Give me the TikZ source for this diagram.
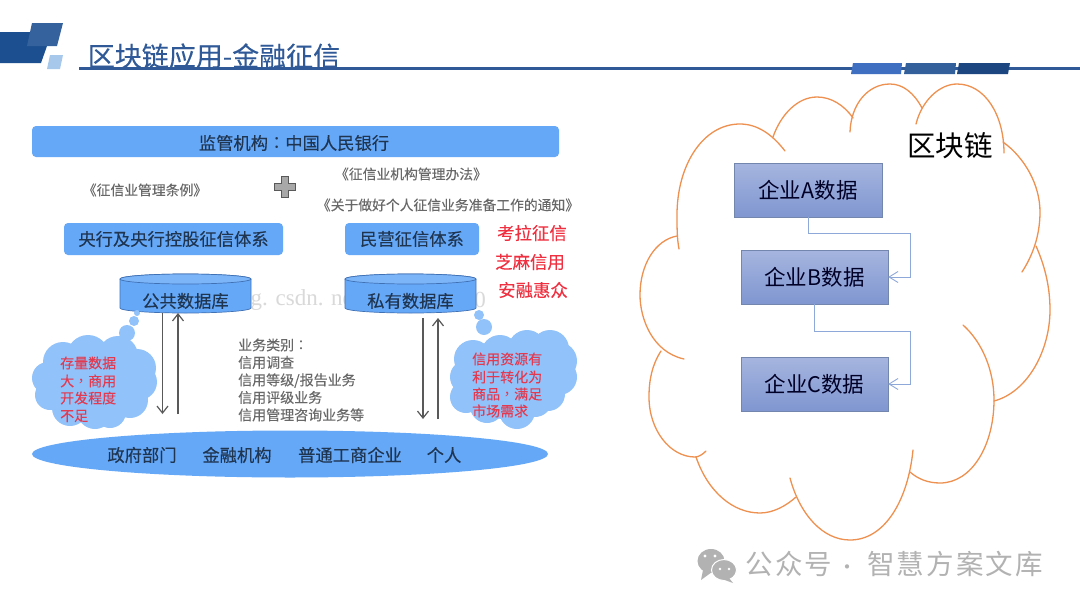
\documentclass[tikz,border=0pt]{standalone}
\usepackage{fontspec}
\setmainfont{Noto Sans CJK SC}
\newfontfamily\wmfont[LetterSpace=8]{Noto Sans CJK SC}
\newfontfamily\semib[FakeBold=0.15]{Noto Sans CJK SC}
\newfontfamily\tcp{Noto Sans CJK TC}
\usetikzlibrary{arrows.meta,calc}
\definecolor{barblue}{HTML}{66A8F8}
\definecolor{cloudblue}{HTML}{92C2FA}
\definecolor{inktext}{HTML}{1F3550}
\definecolor{graytext}{HTML}{686868}
\definecolor{redtext}{HTML}{F03040}
\definecolor{cloudred}{HTML}{E23A50}
\definecolor{orangeline}{HTML}{EE9150}
\definecolor{linkblue}{HTML}{8FA8DA}
\definecolor{ruleblue}{HTML}{2F5A97}
\definecolor{wm}{HTML}{B2B2B2}
\definecolor{AColor}{HTML}{A6B5DF}
\definecolor{BColor}{HTML}{7F96D0}
\definecolor{logodark}{HTML}{1C4F8F}
\definecolor{logomid}{HTML}{35629C}
\definecolor{logolight}{HTML}{A7C8EA}
\definecolor{tabone}{HTML}{3F6FC0}
\definecolor{tabtwo}{HTML}{33609A}
\definecolor{tabthree}{HTML}{1C4680}
\definecolor{plusgray}{HTML}{A8A8A8}
\newcommand{\fsz}[1]{\fontsize{#1}{#1}\selectfont}
\tikzset{
  bar/.style={fill=barblue,rounded corners=4pt,inner sep=0pt,text=inktext,font=\semib\fsz{17.3}},
  dbtext/.style={inner sep=0pt,text=inktext,font=\semib\fsz{17.3}},
  lawtext/.style={inner sep=0pt,text=graytext,font=\semib\fsz{13.8}},
  redlabel/.style={inner sep=0pt,text=redtext,font=\semib\fsz{17.4}},
  groundtext/.style={inner sep=0pt,text=inktext,font=\semib\fsz{17.3}},
  cloudtext/.style={inner sep=0pt,anchor=west,text=cloudred,font=\semib\fsz{14}},
  databox/.style={inner sep=0pt,draw=linkblue!80!black,line width=.4pt,top color=AColor,bottom color=BColor,minimum height=54pt,text=black!85!blue,font=\fsz{21.5}},
  flow/.style={draw=black!65,line width=1.2pt,-{Straight Barb[length=7pt,width=11pt]}},
  link/.style={draw=linkblue,line width=.9pt,-{Straight Barb[length=9pt,width=11pt]}},
  cloudarc/.style={draw=orangeline,line width=1.3pt,line cap=round},
  wmtext/.style={inner sep=0pt,text=wm,font=\wmfont\fsz{27.5}},
  faint/.style={inner sep=0pt,text=black!15,font=\fontspec{Liberation Serif}\fsz{23}},
}
\newcommand{\dbshape}[2]{%
  \fill[barblue,draw=ruleblue!70!barblue,line width=.7pt] (#1,279) -- (#1,308)
    arc[start angle=180,end angle=360,x radius=65.5pt,y radius=5pt] -- (#2,279)
    arc[start angle=0,end angle=180,x radius=65.5pt,y radius=5pt] -- cycle;
  \draw[ruleblue!70!barblue,line width=.7pt,fill=barblue!85!white] ({(#1+#2)/2},279) ellipse[x radius=65.5pt,y radius=5pt];
}
\begin{document}
\begin{tikzpicture}[x=1pt,y=-1pt]
\useasboundingbox (0,0) rectangle (1080,608);
\fill[white] (0,0) rectangle (1080,608);
% header
\fill[ruleblue] (79,66.5) rectangle (1080,69.5);
\fill[logodark] (0,32) -- (31,32) -- (47,46) -- (41,63) -- (0,63) -- cycle;
\fill[logomid] (32,23) -- (63,23) -- (57,46) -- (27,46) -- cycle;
\fill[logolight] (50,55) -- (63,55) -- (60,69) -- (47,69) -- cycle;
\fill[tabone] (853,63) -- (902,63) -- (901,74) -- (851,74) -- cycle;
\fill[tabtwo] (906,63) -- (956,63) -- (955,74) -- (904,74) -- cycle;
\fill[tabthree] (959,63) -- (1010,63) -- (1008,74) -- (957,74) -- cycle;
\node[inner sep=0pt,text=ruleblue,font=\semib\fsz{27}] (title) at (214,56) {区块链应用-金融征信};
% left
\node[bar,minimum width=527pt,minimum height=31pt] (reg) at (295.5,141.5) {};
\node[dbtext] (regtext) at (294,143) {监管机构{\tcp ：}中国人民银行};
\node[lawtext] (law1) at (145,190) {《征信业管理条例》};
\node[lawtext] (law2) at (411,174) {《征信业机构管理办法》};
\node[lawtext] (law3) at (448,205) {《关于做好个人征信业务准备工作的通知》};
\fill[plusgray,draw=black!65,line width=1pt]
  (281,176) -- (288,176) -- (288,183) -- (295,183) -- (295,190) -- (288,190) -- (288,197) -- (281,197) -- (281,190) -- (274,190) -- (274,183) -- (281,183) -- cycle;
\node[bar,minimum width=219pt,minimum height=32pt] (sys1) at (173.5,239) {央行及央行控股征信体系};
\node[bar,minimum width=134pt,minimum height=32pt] (sys2) at (412,239) {民营征信体系};
\node[redlabel] (r1) at (532,233) {考拉征信};
\node[redlabel] (r2) at (530,262) {芝麻信用};
\node[redlabel] (r3) at (533,290) {安融惠众};
\node[faint] (wmark1) at (305,300) {g. csdn. net};
\node[faint] (wmark2) at (480,300) {0};
\dbshape{120}{251}
\dbshape{345}{476}
\node[dbtext] (db1) at (185.5,301) {公共数据库};
\node[dbtext] (db2) at (410.5,301) {私有数据库};
% thought clouds
\fill[cloudblue] (137,313) circle[radius=3pt] (134,321) circle[radius=5pt] (127,333) circle[radius=8pt];
\fill[cloudblue] (95,382) ellipse[x radius=52pt,y radius=38pt];
\foreach \x/\y/\r in {48/378/16,63/362/20,88/356/21,118/356/20,137/368/19,139/382/18,130/400/18,110/412/16,95/411/18,70/408/18,50/395/15}
  \fill[cloudblue] (\x,\y) circle[radius=\r pt];
\fill[cloudblue] (479,315) circle[radius=5pt] (484,327) circle[radius=8pt];
\fill[cloudblue] (513,380) ellipse[x radius=54pt,y radius=40pt];
\foreach \x/\y/\r in {473/359/19,500/354/19,527/349/19,550/349/19,558/361/19,559/377/18,548/394/17,535/400/17,517/411/18,487/406/17,466/397/16,467/377/17}
  \fill[cloudblue] (\x,\y) circle[radius=\r pt];
\node[cloudtext] (c1) at (60,363) {存量数据};
\node[cloudtext] (c2) at (60,381) {大{\tcp ，}商用};
\node[cloudtext] (c3) at (60,398) {开发程度};
\node[cloudtext] (c4) at (60,416) {不足};
\node[cloudtext] (d1) at (472,359) {信用资源有};
\node[cloudtext] (d2) at (472,377) {利于转化为};
\node[cloudtext] (d3) at (472,394) {商品{\tcp ，}满足};
\node[cloudtext] (d4) at (472,411) {市场需求};
\node[inner sep=0pt,anchor=west,align=left,text=graytext,font=\semib\fontsize{14}{17.5}\selectfont] (biz) at (238,380) {业务类别{\tcp ：}\\信用调查\\信用等级/报告业务\\信用评级业务\\信用管理咨询业务等};
% ground
\fill[barblue] (290,454) ellipse[x radius=258pt,y radius=23.5pt];
\node[groundtext] (g1) at (142,455) {政府部门};
\node[groundtext] (g2) at (237,455) {金融机构};
\node[groundtext] (g3) at (350,455) {普通工商企业};
\node[groundtext] (g4) at (444,455) {个人};
\coordinate (a1t) at (162.5,313); \coordinate (a1b) at (162.5,414);
\coordinate (a2t) at (178,313); \coordinate (a2b) at (178,414);
\coordinate (a3t) at (423,318); \coordinate (a3b) at (423,419);
\coordinate (a4t) at (438,318); \coordinate (a4b) at (438,419);
\draw[flow] (a1t) -- (a1b);
\draw[flow] (a2b) -- (a2t);
\draw[flow] (a3t) -- (a3b);
\draw[flow] (a4b) -- (a4t);
% blockchain cloud
\draw[cloudarc] (785,151) .. controls (772,134) and (757,124) .. (740,124) .. controls (703,124) and (677,165) .. (677,215) .. controls (677,228) and (677,238) .. (679,249);
\draw[cloudarc] (677,236) .. controls (655,240) and (640,265) .. (640,295) .. controls (640,318) and (652,352) .. (684,359);
\draw[cloudarc] (661,351) .. controls (652,365) and (649,380) .. (649,397) .. controls (649,430) and (670,457) .. (695,457) .. controls (699,457) and (703,454) .. (706,451);
\draw[cloudarc] (696,457) .. controls (708,492) and (733,513) .. (760,513) .. controls (773,513) and (786,506) .. (796,497);
\draw[cloudarc] (790,478) .. controls (800,515) and (823,540) .. (850,540) .. controls (885,540) and (908,500) .. (913,450);
\draw[cloudarc] (910,472) .. controls (918,479) and (928,483) .. (940,483) .. controls (972,483) and (994,445) .. (994,400) .. controls (994,370) and (982,342) .. (963,325);
\draw[cloudarc] (994,401) .. controls (1028,392) and (1050,350) .. (1050,310) .. controls (1050,285) and (1044,264) .. (1036,246);
\draw[cloudarc] (1022,272) .. controls (1033,255) and (1040,235) .. (1040,212) .. controls (1040,185) and (1025,158) .. (1003,142);
\draw[cloudarc] (1004,153) .. controls (1004,115) and (985,84) .. (957,84) .. controls (940,84) and (922,100) .. (916,124);
\draw[cloudarc] (922,108) .. controls (914,93) and (903,84) .. (890,84) .. controls (868,84) and (851,104) .. (850,132);
\draw[cloudarc] (853,118) .. controls (844,105) and (831,97) .. (817,97) .. controls (798,97) and (781,114) .. (773,137);
\node[inner sep=0pt,text=black,font=\fsz{28.5}] (chain) at (950,146) {区块链};
% data boxes
\node[databox,minimum width=148pt] (a) at (808,190) {企业A数据};
\node[databox,minimum width=147pt] (b) at (814.5,277) {企业B数据};
\node[databox,minimum width=147pt] (c) at (814.5,384) {企业C数据};
\coordinate (ab) at (910,233);
\coordinate (bc) at (910,331);
\draw[link] (a.south) |- (ab) |- (b.east);
\draw[link] (b.south) |- (bc) |- (c.east);
% footer mark
\fill[wm] (711,561) ellipse[x radius=13.5pt,y radius=12pt];
\fill[wm] (703,570) -- (701,580) -- (712,572) -- cycle;
\fill[wm,draw=white,line width=1pt] (724,570) ellipse[x radius=12.5pt,y radius=10.5pt];
\fill[wm] (729,578) -- (733,583) -- (722,579) -- cycle;
\fill[white] (705,556) circle[radius=1.6pt] (715,556) circle[radius=1.6pt] (720,569) circle[radius=1.3pt] (729,569) circle[radius=1.3pt];
\node[wmtext] (mp) at (789,564) {公众号};
\node[inner sep=0pt,text=wm,font=\fsz{20}] (dot) at (847,570) {·};
\node[wmtext] (brand) at (955,564) {智慧方案文库};
\end{tikzpicture}
\end{document}
